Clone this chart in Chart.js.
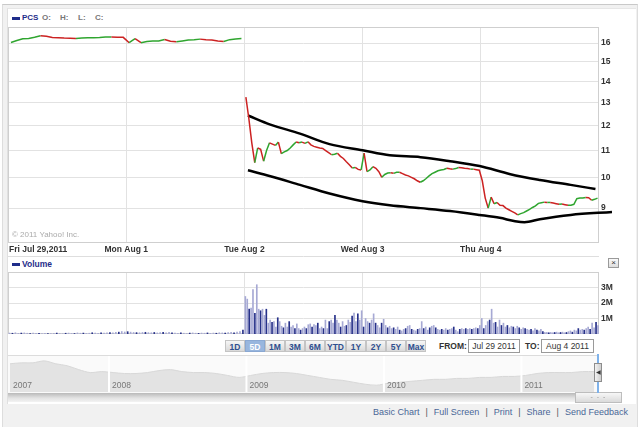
<!DOCTYPE html>
<html lang="en">
<head>
  <meta charset="UTF-8" />
  <title>PCS 5D</title>
  <script src="https://cdn.jsdelivr.net/npm/chart.js"></script>
  <style>
    body {
      margin: 0;
      width: 640px;
      height: 428px;
      overflow: hidden;
      background: #fff;
      font-family: "Liberation Sans", Arial, sans-serif;
    }
    #wrap { position: relative; width: 640px; height: 428px; }
    .abs { position: absolute; white-space: nowrap; }
    #outer {
      left: 2px; top: 4px; width: 634px; height: 422px;
      background: #f1f1f1;
      border-top: 1px solid #c9c9c9;
      border-left: 1px solid #dddddd;
      border-right: 1px solid #dddddd;
    }
    #panel {
      left: 7px; top: 8px; width: 628px; height: 395px;
      background: #fff;
      border-left: 1px solid #e0e0e0;
      border-top: 1px solid #e6e6e6;
    }
    .sw { width: 8px; height: 3px; background: #1f2d8a; }
    .leg { font-size: 8px; font-weight: bold; color: #777; }
    .leg.sym { color: #1f2d8a; }
    .leg.vol { font-size: 8.5px; }
    #copy { left: 12px; top: 230px; font-size: 8px; color: #aaa; }
    .btn {
      top: 340px; height: 12px; line-height: 12px;
      font-size: 8.5px; font-weight: bold; color: #2f4f8f; text-align: center;
      background: linear-gradient(#f6f6f6, #d9d9d9);
      border: 1px solid #c4c4c4; box-sizing: border-box;
    }
    .btn.on { background: #98b6de; color: #fff; border-color: #8aa8d2; }
    .lbl { top: 341px; font-size: 8.5px; font-weight: bold; color: #333; }
    .box {
      top: 339px; height: 14px; line-height: 12px; box-sizing: border-box;
      border: 1px solid #9a9a9a; background: #fff;
      font-size: 8.5px; color: #333; text-align: center;
    }
    #close {
      left: 608px; top: 258px; width: 11px; height: 10px; box-sizing: border-box;
      border: 1px solid #9a9a9a; background: linear-gradient(#fafafa, #dedede);
      font-size: 8px; line-height: 7px; text-align: center; color: #333;
    }
    #navBox { left: 8px; top: 355px; width: 591px; height: 37px; background: #fafafa; border-top: 1px solid #dcdcdc; }
    #scroll { left: 8px; top: 393px; width: 591px; height: 9px; background: linear-gradient(#b9b9b9, #e2e2e2 55%, #f3f3f3); }
    #scrollBtn {
      left: 575px; top: 392px; width: 47px; height: 11px; box-sizing: border-box;
      border: 1px solid #bdbdbd; background: linear-gradient(#f7f7f7, #dadada);
      font-size: 7px; line-height: 8px; text-align: center; color: #999; letter-spacing: 1px;
    }
    #handleLine { left: 597px; top: 354px; width: 2px; height: 39px; background: #7fb2ea; }
    #handle {
      left: 594px; top: 363px; width: 8px; height: 19px; box-sizing: border-box;
      border: 1px solid #8d8d8d; background: linear-gradient(90deg, #f2f2f2, #cfcfcf);
      font-size: 6px; line-height: 17px; text-align: center; color: #333;
    }
    #links { right: 12px; top: 407px; font-size: 9px; color: #4a6797; }
    #links .sep { color: #555; margin: 0 6px; }
  </style>
</head>
<body>
<div id="wrap">
  <div id="outer" class="abs"></div>
  <div id="panel" class="abs"></div>

  <!-- legend -->
  <div class="abs sw" style="left:12px;top:17px;"></div>
  <div class="abs leg sym" style="left:22px;top:13px;">PCS</div>
  <div class="abs leg" style="left:42px;top:13px;">O:</div>
  <div class="abs leg" style="left:60px;top:13px;">H:</div>
  <div class="abs leg" style="left:78px;top:13px;">L:</div>
  <div class="abs leg" style="left:95px;top:13px;">C:</div>

  <div class="abs" style="left:8px;top:27px;">
    <canvas id="priceChart" width="620" height="230"></canvas>
  </div>
  <div id="copy" class="abs">&copy; 2011 Yahoo! Inc.</div>

  <!-- volume -->
  <div class="abs sw" style="left:12px;top:263px;"></div>
  <div class="abs leg sym vol" style="left:22px;top:259px;">Volume</div>
  <div id="close" class="abs">&times;</div>
  <div class="abs" style="left:8px;top:272px;">
    <canvas id="volChart" width="620" height="62"></canvas>
  </div>

  <!-- range buttons -->
  <div class="abs btn" style="left:225px;width:20px;">1D</div>
  <div class="abs btn on" style="left:245px;width:20px;">5D</div>
  <div class="abs btn" style="left:265px;width:20px;">1M</div>
  <div class="abs btn" style="left:285px;width:20px;">3M</div>
  <div class="abs btn" style="left:305px;width:20px;">6M</div>
  <div class="abs btn" style="left:325px;width:21px;">YTD</div>
  <div class="abs btn" style="left:346px;width:20px;">1Y</div>
  <div class="abs btn" style="left:366px;width:20px;">2Y</div>
  <div class="abs btn" style="left:386px;width:20px;">5Y</div>
  <div class="abs btn" style="left:406px;width:20px;">Max</div>
  <div class="abs lbl" style="left:439px;">FROM:</div>
  <div class="abs box" style="left:468px;width:52px;">Jul 29 2011</div>
  <div class="abs lbl" style="left:525px;">TO:</div>
  <div class="abs box" style="left:541px;width:53px;">Aug 4 2011</div>

  <!-- navigator -->
  <div id="navBox" class="abs"></div>
  <div class="abs" style="left:10px;top:356px;">
    <canvas id="navChart" width="587" height="36"></canvas>
  </div>
  <div id="scroll" class="abs"></div>
  <div id="scrollBtn" class="abs">- - -</div>
  <div id="handleLine" class="abs"></div>
  <div id="handle" class="abs">&#9664;</div>

  <div id="links" class="abs">Basic Chart<span class="sep">|</span>Full Screen<span class="sep">|</span>Print<span class="sep">|</span>Share<span class="sep">|</span>Send Feedback</div>
</div>

<script>
  // ---- data ----
  const dayLabels = ['Fri Jul 29,2011', 'Mon Aug 1', 'Tue Aug 2', 'Wed Aug 3', 'Thu Aug 4'];
  const priceTicks = [9, 10, 11, 12, 13, 14, 15, 16];
  const volumeTicks = [1, 2, 3];               // millions
  const volumeTickLabels = ['1M', '2M', '3M'];

  const jul29Close = [16.03, 16.14, 16.24, 16.26, 16.33, 16.41, 16.38, 16.31, 16.30, 16.28,
                      16.27, 16.26, 16.28, 16.30, 16.30, 16.31, 16.34, 16.34, 16.33, 16.32];
  const aug1Close  = [16.02, 16.25, 16.02, 16.08, 16.11, 16.12, 16.20, 16.10, 16.07, 16.12,
                      16.17, 16.19, 16.22, 16.19, 16.17, 16.12, 16.09, 16.19, 16.23, 16.25];
  const aug2Close  = [13.25, 12.30, 11.30, 10.55, 11.10, 11.05, 10.60, 11.00, 11.30, 11.25,
                      11.20, 11.33, 10.88, 10.95, 11.00, 11.10, 11.22, 11.33, 11.30, 11.33,
                      11.28, 11.34, 11.22, 11.16, 11.13, 11.10, 11.08, 11.00, 10.92, 10.84,
                      10.86, 10.90, 10.78, 10.70, 10.58, 10.47, 10.35, 10.37, 10.30, 10.28];
  const aug3Close  = [10.90, 10.22, 10.28, 10.40, 10.34, 10.22, 10.02, 10.12, 10.17, 10.18,
                      10.16, 10.20, 10.20, 10.15, 10.10, 10.07, 10.02, 9.97, 9.90, 9.85,
                      9.90, 9.98, 10.07, 10.15, 10.20, 10.25, 10.28, 10.30, 10.34, 10.32,
                      10.31, 10.33, 10.37, 10.36, 10.34, 10.33, 10.31, 10.31, 10.29, 10.27];
  const aug4Close  = [9.90, 9.32, 9.00, 9.35, 9.14, 9.18, 9.09, 9.08, 9.00, 8.95,
                      8.90, 8.85, 8.79, 8.83, 8.86, 8.91, 8.96, 9.02, 9.07, 9.15,
                      9.17, 9.19, 9.18, 9.18, 9.16, 9.14, 9.12, 9.13, 9.11, 9.09,
                      9.09, 9.12, 9.30, 9.32, 9.32, 9.34, 9.33, 9.25, 9.28, 9.32];

  // trend envelope (time in trading days from Jul 29 open)
  const upperTimes  = [2.03, 2.22, 2.47, 2.72, 3.00, 3.23, 3.49, 3.74, 3.99, 4.25, 4.50, 4.76, 4.97];
  const upperValues = [12.43, 12.04, 11.67, 11.25, 11.01, 10.82, 10.75, 10.60, 10.42, 10.13, 9.93, 9.76, 9.62];
  const lowerTimes  = [2.03, 2.22, 2.47, 2.72, 3.00, 3.23, 3.49, 3.74, 3.99, 4.16, 4.29, 4.37, 4.50, 4.76, 5.11];
  const lowerValues = [10.27, 10.06, 9.76, 9.47, 9.22, 9.09, 9.00, 8.91, 8.79, 8.70, 8.60, 8.57, 8.66, 8.79, 8.88];

  // volume in millions
  const jul29Vol = [0.06, 0.05, 0.08, 0.04, 0.06, 0.07, 0.05, 0.03, 0.06, 0.05, 0.04, 0.02, 0.05, 0.03,
                    0.02, 0.04, 0.06, 0.03, 0.02, 0.05, 0.06, 0.04, 0.03, 0.07, 0.05, 0.06, 0.04, 0.05,
                    0.08, 0.06, 0.05, 0.07, 0.06, 0.08, 0.09, 0.07, 0.10, 0.12, 0.16, 0.13];
  const aug1Vol  = [0.15, 0.12, 0.10, 0.09, 0.08, 0.10, 0.11, 0.09, 0.08, 0.10, 0.07, 0.09, 0.10, 0.08,
                    0.11, 0.07, 0.06, 0.04, 0.08, 0.05, 0.03, 0.06, 0.07, 0.05, 0.04, 0.06, 0.05, 0.07,
                    0.04, 0.06, 0.05, 0.08, 0.07, 0.06, 0.09, 0.10, 0.08, 0.12, 0.15, 0.25];
  const aug2Vol  = [2.42, 2.25, 1.60, 1.67, 2.86, 1.34, 3.18, 1.60, 1.50, 1.60, 1.20, 1.60, 0.70, 0.90,
                    0.75, 0.80, 0.45, 1.05, 0.80, 0.50, 0.40, 0.70, 0.45, 0.80, 0.45, 0.55, 0.35, 0.65,
                    0.35, 0.25, 0.35, 0.45, 0.35, 0.60, 0.65, 0.45, 0.60, 0.55, 0.70, 0.35, 0.45, 0.35,
                    0.90, 0.35, 0.80, 0.90, 0.70, 1.20, 0.90, 0.70, 0.45, 0.80, 0.50, 0.55, 0.90, 0.75,
                    1.15, 1.35, 0.80, 1.30, 0.90, 1.50];
  const aug3Vol  = [0.45, 1.00, 0.80, 0.70, 0.90, 1.30, 0.70, 0.55, 0.40, 0.70, 0.95, 0.55, 0.40, 0.50,
                    0.35, 0.40, 0.30, 0.45, 0.25, 0.20, 0.30, 0.35, 0.50, 0.55, 0.30, 0.25, 0.20, 0.30,
                    0.35, 0.80, 0.35, 0.45, 0.25, 0.40, 0.50, 0.55, 0.40, 0.30, 0.25, 0.30, 0.25, 0.35,
                    0.25, 0.30, 0.35, 0.45, 0.25, 0.15, 0.30, 0.35, 0.30, 0.35, 0.30, 0.35, 0.30, 0.35,
                    0.40, 0.35, 0.55];
  const aug4Vol  = [1.00, 0.35, 0.55, 0.80, 0.90, 1.60, 0.70, 0.75, 0.45, 0.90, 0.55, 0.70, 0.45, 0.55,
                    0.40, 0.50, 0.45, 0.35, 0.50, 0.40, 0.30, 0.40, 0.35, 0.30, 0.25, 0.30, 0.20, 0.35,
                    0.25, 0.20, 0.30, 0.15, 0.10, 0.10, 0.08, 0.10, 0.08, 0.10, 0.12, 0.08, 0.10, 0.12,
                    0.08, 0.10, 0.15, 0.20, 0.12, 0.25, 0.20, 0.35, 0.25, 0.30, 0.25, 0.35, 0.45, 0.30,
                    0.70, 0.40, 0.75, 0.55];

  // navigator: monthly closes Apr 2007 .. Jul 2011
  const navYears = ['2007', '2008', '2009', '2010', '2011'];
  const navStart = 2007.28;
  const navEnd = 2011.55;
  const navCloses = [29, 30, 30, 32, 29, 27, 23, 20, 21, 20, 19, 19, 20, 22, 23, 21, 20, 20, 19, 17,
                     15, 17, 19, 20, 20, 19, 17, 15, 13, 12, 10, 8, 7, 9, 10, 11, 12, 13, 13, 14,
                     14, 15, 15, 16, 16, 17, 19, 20, 20, 20, 21, 21];

  // ---- helpers ----
  const UP = '#2fa52f', DOWN = '#cc2222';
  const GRID = '#e2e2e2';
  Chart.defaults.font.family = '"Liberation Sans", Arial, sans-serif';

  // spread each day's samples across that day; break the line after Aug 1
  function spread(days, breakAfter) {
    const pts = [];
    days.forEach((arr, d) => {
      arr.forEach((v, i) => pts.push({ x: d + (i + 0.5) / arr.length, y: v }));
      if (d === breakAfter) pts.push({ x: d + 1, y: null });
    });
    return pts;
  }

  const framePlugin = {
    id: 'frame',
    beforeDatasetsDraw(chart) {
      const { ctx, chartArea: a } = chart;
      ctx.save();
      ctx.strokeStyle = '#cfcfcf';
      ctx.lineWidth = 1;
      ctx.strokeRect(a.left + 0.5, a.top + 0.5, a.width - 1, a.height - 1);
      ctx.restore();
    }
  };

  const dateRowPlugin = {
    id: 'dateRow',
    afterDraw(chart) {
      const { ctx, chartArea: a } = chart;
      const xs = chart.scales.x;
      ctx.save();
      ctx.strokeStyle = '#dedede';
      ctx.beginPath();
      ctx.moveTo(a.left, a.bottom + 13.5);
      ctx.lineTo(a.right, a.bottom + 13.5);
      ctx.stroke();
      ctx.font = 'bold 8.5px "Liberation Sans", Arial, sans-serif';
      ctx.fillStyle = '#333';
      ctx.textBaseline = 'middle';
      dayLabels.forEach((t, i) => {
        const x = xs.getPixelForValue(i);
        ctx.textAlign = i === 0 ? 'left' : 'center';
        ctx.fillText(t, i === 0 ? x + 1 : x, a.bottom + 7);
      });
      ctx.restore();
    }
  };

  const noPad = s => { s.paddingTop = 0; s.paddingBottom = 0; s.paddingLeft = 0; s.paddingRight = 0; };

  function dayAxis() {
    return {
      type: 'linear', min: 0, max: 5, offset: false,
      afterBuildTicks: s => { s.ticks = [1, 2, 3, 4].map(v => ({ value: v })); },
      ticks: { display: false },
      grid: { color: GRID, drawTicks: false, offset: false },
      border: { display: false },
      afterFit: s => { s.height = 0; noPad(s); }
    };
  }

  // ---- price ----
  new Chart(document.getElementById('priceChart'), {
    type: 'line',
    data: {
      datasets: [
        {
          label: 'PCS',
          data: spread([jul29Close, aug1Close, aug2Close, aug3Close, aug4Close], 1),
          borderColor: UP,
          borderWidth: 1.5,
          pointRadius: 0,
          spanGaps: false,
          segment: { borderColor: c => (c.p1.parsed.y >= c.p0.parsed.y ? UP : DOWN) }
        },
        {
          label: 'upper',
          data: upperTimes.map((t, i) => ({ x: t, y: upperValues[i] })),
          borderColor: '#000', borderWidth: 2.5, pointRadius: 0,
          cubicInterpolationMode: 'monotone'
        },
        {
          label: 'lower',
          data: lowerTimes.map((t, i) => ({ x: t, y: lowerValues[i] })),
          borderColor: '#000', borderWidth: 2.5, pointRadius: 0,
          cubicInterpolationMode: 'monotone',
          clip: false
        }
      ]
    },
    options: {
      responsive: false,
      animation: false,
      layout: { padding: { bottom: 14 } },
      plugins: { legend: { display: false }, tooltip: { enabled: false } },
      scales: {
        x: dayAxis(),
        y: {
          type: 'logarithmic', position: 'right', min: 7.97, max: 16.92,
          afterBuildTicks: s => { s.ticks = priceTicks.map(v => ({ value: v })); },
          ticks: {
            autoSkip: false, padding: 2, color: '#333',
            font: { size: 8.5, weight: 'bold' },
            callback: v => String(v)
          },
          grid: { color: GRID, drawTicks: false },
          border: { display: false },
          afterFit: s => { s.width = 29; noPad(s); }
        }
      }
    },
    plugins: [framePlugin, dateRowPlugin]
  });

  // ---- volume ----
  new Chart(document.getElementById('volChart'), {
    type: 'bar',
    data: {
      datasets: [{
        label: 'Volume',
        data: spread([jul29Vol, aug1Vol, aug2Vol, aug3Vol, aug4Vol], -1),
        backgroundColor: c => (c.dataIndex % 3 === 1 ? '#27318a' : '#a6a9d4'),
        barThickness: 1,
        grouped: false
      }]
    },
    options: {
      responsive: false,
      animation: false,
      plugins: { legend: { display: false }, tooltip: { enabled: false } },
      scales: {
        x: dayAxis(),
        y: {
          type: 'linear', position: 'right', min: 0, max: 4,
          afterBuildTicks: s => { s.ticks = volumeTicks.map(v => ({ value: v })); },
          ticks: {
            autoSkip: false, padding: 2, color: '#333',
            font: { size: 8.5, weight: 'bold' },
            callback: (v, i) => volumeTickLabels[i]
          },
          grid: { color: GRID, drawTicks: false },
          border: { display: false },
          afterFit: s => { s.width = 29; noPad(s); }
        }
      }
    },
    plugins: [framePlugin]
  });

  // ---- navigator ----
  const yearPlugin = {
    id: 'years',
    afterDatasetsDraw(chart) {
      const { ctx, chartArea: a } = chart;
      const xs = chart.scales.x;
      ctx.save();
      ctx.strokeStyle = '#fff';
      ctx.lineWidth = 2;
      navYears.forEach(y => {
        const yr = Number(y);
        if (yr > navStart) {
          const x = xs.getPixelForValue(yr);
          ctx.beginPath(); ctx.moveTo(x, a.top); ctx.lineTo(x, a.bottom); ctx.stroke();
        }
      });
      ctx.font = '8.5px "Liberation Sans", Arial, sans-serif';
      ctx.fillStyle = '#777';
      ctx.textAlign = 'left';
      ctx.textBaseline = 'middle';
      navYears.forEach(y => {
        const x = xs.getPixelForValue(Math.max(Number(y), navStart));
        ctx.fillText(y, x + 3, a.bottom - 6);
      });
      ctx.restore();
    }
  };

  new Chart(document.getElementById('navChart'), {
    type: 'line',
    data: {
      datasets: [{
        data: navCloses.map((v, i) => ({ x: navStart + i / 12, y: v })),
        fill: 'origin',
        backgroundColor: '#e3e3e3',
        borderColor: '#d8d8d8',
        borderWidth: 1,
        pointRadius: 0,
        tension: 0.3
      }]
    },
    options: {
      responsive: false,
      animation: false,
      plugins: { legend: { display: false }, tooltip: { enabled: false } },
      scales: {
        x: { type: 'linear', min: navStart, max: navEnd, display: false },
        y: { min: 0, max: 37, display: false }
      }
    },
    plugins: [yearPlugin]
  });
</script>
</body>
</html>
